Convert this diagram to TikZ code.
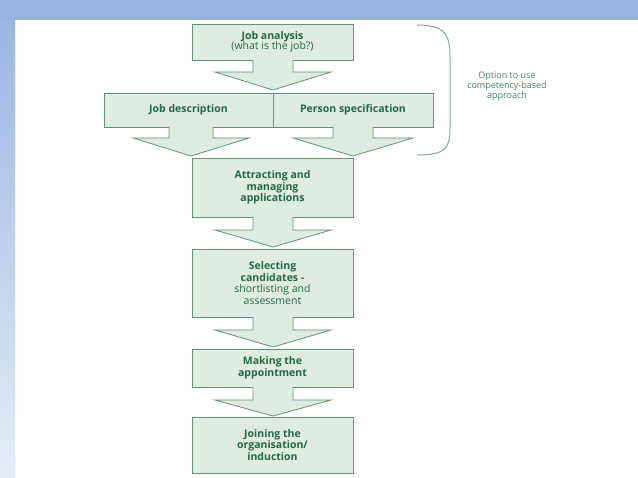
\documentclass[tikz,border=0pt]{standalone}
\usepackage{fontspec}
\setmainfont{Open Sans}
\usetikzlibrary{positioning,calc}
\definecolor{boxfill}{RGB}{222,236,226}
\definecolor{boxline}{RGB}{95,150,115}
\definecolor{boxtext}{RGB}{35,105,65}
\definecolor{slideblue}{RGB}{150,180,226}
\tikzset{
  stepbox/.style={draw=boxline, fill=boxfill, line width=0.8pt, align=center,
    text=boxtext, font=\fontsize{10.5}{11.5}\selectfont\bfseries, inner sep=2pt},
  blockarr/.style={draw=boxline, fill=boxfill, line width=0.8pt}
}
% block arrow: centre x, top y, shaft half, head half, shaft bottom, tip
\newcommand\blockarrow[6]{%
  \draw[blockarr] (#1-#3,#2) -- (#1-#3,#5) -- (#1-#4,#5) -- (#1,#6)
    -- (#1+#4,#5) -- (#1+#3,#5) -- (#1+#3,#2);}
\begin{document}
\begin{tikzpicture}[x=1pt,y=-1pt]
  \useasboundingbox (0,0) rectangle (638,478);
  % slide background
  \shade[top color=slideblue, bottom color=slideblue!25] (0,0) rectangle (15,478);
  \fill[slideblue] (0,0) rectangle (638,20);

  % boxes
  \node[stepbox, minimum width=161pt, minimum height=36pt] (analysis) at (272.5,42)
    {Job analysis\\[-1pt]{\mdseries (what is the job?)}};
  \node[stepbox, minimum width=169pt, minimum height=34pt] (descr) at (188.5,110) {Job description};
  \node[stepbox, minimum width=160pt, minimum height=34pt] (person) at (353,110) {Person specification};
  \node[stepbox, minimum width=161pt, minimum height=59pt] (attract) at (272.5,187.5)
    {Attracting and\\managing\\applications};
  \node[stepbox, minimum width=161pt, minimum height=68pt] (select) at (272.5,283)
    {Selecting\\candidates -\\{\mdseries shortlisting and}\\{\mdseries assessment}};
  \node[stepbox, minimum width=161pt, minimum height=38pt] (appoint) at (272.5,368)
    {Making the\\appointment};
  \node[stepbox, minimum width=161pt, minimum height=56pt] (join) at (272.5,445)
    {Joining the\\organisation/\\induction};

  % block arrows
  \blockarrow{273}{60}{20}{58}{72}{90}
  \blockarrow{191}{127}{22}{58}{138}{156}
  \blockarrow{353}{127}{20}{60}{138}{156}
  \blockarrow{273}{217}{20}{58}{230}{247}
  \blockarrow{273}{317}{20}{58}{330}{347}
  \blockarrow{273}{387}{20}{58}{400}{416}

  % brace and note
  \draw[boxline!80, line width=1pt] (417,25) .. controls (452,25) and (450,40) .. (450,70)
    -- (450,115) .. controls (450,145) and (452,155) .. (417,155);
  \node[align=center, text=boxtext!85, font=\fontsize{9}{10}\selectfont] (note) at (507,86)
    {Option to use\\competency-based\\approach};
\end{tikzpicture}
\end{document}
